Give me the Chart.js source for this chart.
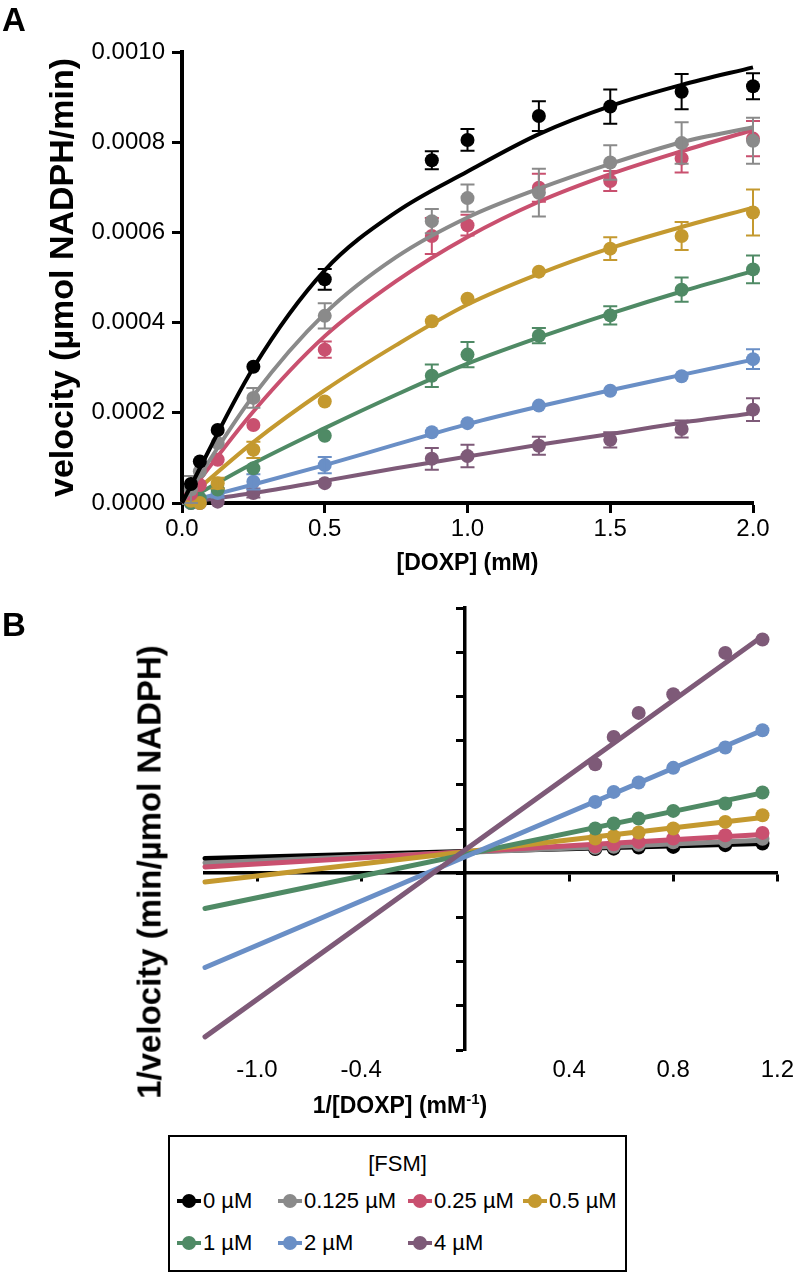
<!DOCTYPE html>
<html>
<head>
<meta charset="utf-8">
<script src="https://cdn.jsdelivr.net/npm/chart.js@4.4.1/dist/chart.umd.min.js"></script>
<style>
  body { margin: 0; background: #fff; font-family: 'Liberation Sans', Arial, sans-serif; color: #000; }
  #page { position: relative; width: 800px; height: 1274px; overflow: hidden; }
  canvas { position: absolute; left: 0; }
  #chartA { top: 0; }
  #chartB { top: 590px; }
  .panel-label { position: absolute; left: 2px; font-weight: bold; font-size: 33px; line-height: 1; }
  .ytitle { position: absolute; font-weight: bold; font-size: 33px; line-height: 1; white-space: nowrap;
            transform: translate(-50%, -50%) rotate(-90deg); }
  .xtitle { position: absolute; font-weight: bold; font-size: 23px; line-height: 1; white-space: nowrap;
            transform: translateX(-50%); }
  .xtitle sup { font-size: 15px; line-height: 0; vertical-align: 9px; }
  #legend { position: absolute; left: 168px; top: 1135px; width: 455px; height: 133px; border: 2px solid #000; }
  #legend .head { position: absolute; left: 0; right: 0; top: 14px; text-align: center; font-size: 22px; }
  #legend .items { position: absolute; left: 7px; top: 51px; display: grid;
                   grid-template-columns: 101px 130px 115px 100px; row-gap: 17px; }
  .item { display: flex; align-items: center; font-size: 22px; line-height: 25px; white-space: nowrap; }
  .sym { position: relative; display: inline-block; width: 24px; height: 14px; margin-right: 2px; }
  .sym i { position: absolute; left: 0; right: 0; top: 5px; height: 4px; }
  .sym b { position: absolute; left: 5px; top: 0; width: 14px; height: 14px; border-radius: 50%; }
</style>
</head>
<body>
<div id="page">
  <canvas id="chartA" width="800" height="600"></canvas>
  <canvas id="chartB" width="800" height="520"></canvas>
  <div class="panel-label" style="top: 3px;">A</div>
  <div class="panel-label" style="top: 608px;">B</div>
  <div class="ytitle" style="left: 149px; top: 872px;">1/velocity (min/µmol NADPH)</div>
  <div class="xtitle" style="left: 400px; top: 1094px;">1/[DOXP] (mM<sup>-1</sup>)</div>
  <div id="legend">
    <div class="head">[FSM]</div>
    <div class="items" id="legend-items"></div>
  </div>
</div>
<script>
// FSM concentrations and colours
const fsmLabels = ['0 µM', '0.125 µM', '0.25 µM', '0.5 µM', '1 µM', '2 µM', '4 µM'];
const fsmColors = ['#000000', '#8a8a8a', '#c9506f', '#c4992f', '#4f8a65', '#6a8fc6', '#7e5a78'];

// Panel A: [DOXP] (mM) and measured velocity (µmol NADPH/min)
const concA = [0.03125, 0.0625, 0.125, 0.25, 0.5, 0.875, 1.0, 1.25, 1.5, 1.75, 2.0];
const vel0    = [0.000042, 0.000092, 0.000162, 0.000302, 0.000496, 0.00076, 0.000805, 0.000858, 0.000879, 0.000912, 0.000924];
const vel0125 = [0.00003, 0.00007, 0.000133, 0.000233, 0.000415, 0.000625, 0.000676, 0.000688, 0.000755, 0.000798, 0.000803];
const vel025  = [0.00002, 0.00004, 0.000096, 0.000173, 0.00034, 0.000592, 0.000616, 0.000699, 0.000714, 0.000764, 0.000808];
const vel05   = [0.000005, 0.0, 0.000044, 0.000118, 0.000225, 0.000403, 0.000453, 0.000513, 0.000564, 0.000592, 0.000644];
const vel1    = [0.0, 0.00001, 0.00003, 0.000077, 0.000149, 0.000282, 0.000329, 0.000371, 0.000416, 0.000473, 0.000518];
const vel2    = [0.000005, 0.00001, 0.000022, 0.000047, 0.000084, 0.000157, 0.000177, 0.000216, 0.000249, 0.000281, 0.000319];
const vel4    = [0.0, 0.0, 0.000003, 0.000022, 0.000044, 0.000098, 0.000104, 0.000127, 0.00014, 0.000164, 0.000207];

// Panel A error bars (half height)
const err0    = [0, 0, 0, 0, 0.000023, 0.00002, 0.000024, 0.000033, 0.000038, 0.000039, 0.000029];
const err0125 = [0.00003, 0, 0, 0.000022, 0.000028, 0.000027, 0.00003, 0.000053, 0.000038, 0.000046, 0.000051];
const err025  = [0, 0, 0, 0, 0.000018, 0.00004, 0.000023, 0.000031, 0.000022, 0.000031, 0.000039];
const err05   = [0, 0, 0.000012, 0.000018, 0, 0, 0, 0, 0.000025, 0.000031, 0.000051];
const err1    = [0, 0, 0, 0, 0, 0.000025, 0.000028, 0.000017, 0.00002, 0.000027, 0.000031];
const err2    = [0, 0, 0.00001, 0.000017, 0.000018, 0, 0, 0, 0, 0, 0.000022];
const err4    = [0, 0, 0, 0.00001, 0, 0.000024, 0.000025, 0.00002, 0.000017, 0.000019, 0.000025];

// Panel A fitted curves, every 0.25 mM
const fitConcA = [0, 0.25, 0.5, 0.75, 1.0, 1.25, 1.5, 1.75, 2.0];
const fit0    = [0, 0.0003, 0.000516, 0.000645, 0.000735, 0.000818, 0.00088, 0.000927, 0.000966];
const fit0125 = [0, 0.000238, 0.00042, 0.000545, 0.000633, 0.000697, 0.000752, 0.0008, 0.000833];
const fit025  = [0, 0.000203, 0.00037, 0.000492, 0.00059, 0.000668, 0.000729, 0.00078, 0.000827];
const fit05   = [0, 0.000135, 0.00025, 0.00035, 0.00044, 0.000508, 0.000565, 0.000612, 0.000655];
const fit1    = [0, 0.000088, 0.000166, 0.00024, 0.000309, 0.000367, 0.00042, 0.000469, 0.000514];
const fit2    = [0, 0.000041, 0.000084, 0.00013, 0.000175, 0.000214, 0.00025, 0.000284, 0.000318];
const fit4    = [0, 0.000022, 0.000049, 0.000077, 0.000103, 0.000129, 0.000153, 0.000178, 0.000199];

// Panel B: 1/[DOXP] (mM-1) and 1/velocity (min/µmol NADPH)
const invConcB = [0.5, 0.571, 0.667, 0.8, 1.0, 1.143];
const inv0    = [1090, 1110, 1160, 1190, 1270, 1345];
const inv0125 = [1150, 1200, 1290, 1400, 1450, 1560];
const inv025  = [1222, 1312, 1416, 1570, 1719, 1824];
const inv05   = [1570, 1674, 1842, 2022, 2321, 2624];
const inv1    = [2022, 2249, 2475, 2819, 3154, 3652];
const inv2    = [3226, 3679, 4104, 4766, 5688, 6471];
const inv4    = [4932, 6167, 7253, 8100, 9968, 10575];

// Panel B regression lines: value at each end
const lineEndsB = [-1.0, 1.143];
const line0    = [665, 1344];
const line0125 = [466, 1493];
const line025  = [285, 1751];
const line05   = [-394, 2520];
const line1    = [-1597, 3633];
const line2    = [-4267, 6471];
const line4    = [-7407, 10724];

// Panel B axis ticks (labels as printed on the figure)
const xTickValsB = [-0.8, -0.4, 0.4, 0.8, 1.2];
const xTickLabelsB = ['-1.0', '-0.4', '0.4', '0.8', '1.2'];
const yTickStepB = 2000;

const velSeries = [vel0, vel0125, vel025, vel05, vel1, vel2, vel4];
const errSeries = [err0, err0125, err025, err05, err1, err2, err4];
const fitSeries = [fit0, fit0125, fit025, fit05, fit1, fit2, fit4];
const invSeries = [inv0, inv0125, inv025, inv05, inv1, inv2, inv4];
const lineSeries = [line0, line0125, line025, line05, line1, line2, line4];

Chart.defaults.font.family = "'Liberation Sans', Arial, Helvetica, sans-serif";
Chart.defaults.color = '#000';

// Draw error bars right after each dataset so layering follows dataset order
const errorBarPlugin = {
    id: 'errorBars',
    afterDatasetDraw(chart, args) {
        const ds = chart.data.datasets[args.index];
        if (!ds.errorBars) return;
        const ctx = chart.ctx;
        const xs = chart.scales.x;
        const ys = chart.scales.y;
        ctx.save();
        ctx.strokeStyle = ds.borderColor;
        ctx.lineWidth = 2;
        ds.data.forEach((p, j) => {
            const e = ds.errorBars[j];
            if (!e) return;
            const px = xs.getPixelForValue(p.x);
            const top = ys.getPixelForValue(p.y + e);
            const bot = ys.getPixelForValue(p.y - e);
            ctx.beginPath();
            ctx.moveTo(px, top);
            ctx.lineTo(px, bot);
            ctx.moveTo(px - 7, top);
            ctx.lineTo(px + 7, top);
            ctx.moveTo(px - 7, bot);
            ctx.lineTo(px + 7, bot);
            ctx.stroke();
        });
        ctx.restore();
    }
};

// Panel A datasets: first one ends up on top
const datasetsA = [];
fsmLabels.forEach((label, i) => {
    datasetsA.push({
        label: label,
        data: concA.map((x, j) => ({ x: x, y: velSeries[i][j] })),
        showLine: false,
        pointRadius: 7,
        pointBorderWidth: 0,
        backgroundColor: fsmColors[i],
        borderColor: fsmColors[i],
        errorBars: errSeries[i],
        clip: false
    });
    datasetsA.push({
        label: label + ' fit',
        data: fitConcA.map((x, j) => ({ x: x, y: fitSeries[i][j] })),
        showLine: true,
        pointRadius: 0,
        borderColor: fsmColors[i],
        borderWidth: 4,
        cubicInterpolationMode: 'monotone',
        fill: false,
        clip: false
    });
});

new Chart(document.getElementById('chartA'), {
    type: 'scatter',
    data: { datasets: datasetsA },
    options: {
        responsive: false,
        animation: false,
        layout: { padding: { top: 52, right: 47, left: 0, bottom: 0 } },
        plugins: { legend: { display: false }, tooltip: { enabled: false } },
        scales: {
            x: {
                type: 'linear',
                min: 0,
                max: 2,
                ticks: { stepSize: 0.5, callback: v => v.toFixed(1), font: { size: 24 }, padding: 2, color: '#000' },
                grid: { drawOnChartArea: false, tickLength: 10, tickWidth: 3, color: '#000' },
                border: { width: 4, color: '#000' },
                title: { display: true, text: '[DOXP] (mM)', font: { size: 23, weight: 'bold' }, padding: { bottom: 23 }, color: '#000' },
                afterFit: scale => { scale.height = 97; }
            },
            y: {
                type: 'linear',
                min: 0,
                max: 0.001,
                ticks: { stepSize: 0.0002, callback: v => v.toFixed(4), font: { size: 24 }, padding: 7, color: '#000' },
                grid: { drawOnChartArea: false, tickLength: 10, tickWidth: 3, color: '#000' },
                border: { width: 4, color: '#000' },
                title: { display: true, text: 'velocity (µmol NADPH/min)', font: { size: 34, weight: 'bold' }, padding: { top: 43 }, color: '#000' },
                afterFit: scale => { scale.width = 182; }
            }
        }
    },
    plugins: [errorBarPlugin]
});

// Panel B datasets: last concentration on top
const datasetsB = [];
for (let i = fsmLabels.length - 1; i >= 0; i--) {
    datasetsB.push({
        label: fsmLabels[i],
        data: invConcB.map((x, j) => ({ x: x, y: invSeries[i][j] })),
        showLine: false,
        pointRadius: 7,
        pointBorderWidth: 0,
        backgroundColor: fsmColors[i],
        borderColor: fsmColors[i],
        clip: false
    });
    datasetsB.push({
        label: fsmLabels[i] + ' line',
        data: lineEndsB.map((x, j) => ({ x: x, y: lineSeries[i][j] })),
        showLine: true,
        pointRadius: 0,
        borderColor: fsmColors[i],
        borderWidth: 5,
        borderCapStyle: 'round',
        fill: false,
        clip: false
    });
}

new Chart(document.getElementById('chartB'), {
    type: 'scatter',
    data: { datasets: datasetsB },
    options: {
        responsive: false,
        animation: false,
        layout: { padding: { top: 18, right: 17, left: 205, bottom: 0 } },
        plugins: { legend: { display: false }, tooltip: { enabled: false } },
        scales: {
            // bottom scale only carries the printed labels
            x: {
                type: 'linear',
                position: 'bottom',
                min: -1.0,
                max: 1.2,
                afterBuildTicks: scale => { scale.ticks = xTickValsB.map(v => ({ value: v })); },
                ticks: {
                    autoSkip: false,
                    maxRotation: 0,
                    callback: v => xTickLabelsB[xTickValsB.indexOf(v)],
                    font: { size: 24 },
                    padding: 6,
                    color: '#000'
                },
                grid: { display: false, drawTicks: false },
                border: { display: false },
                afterFit: scale => { scale.height = 60; }
            },
            // axis line crossing at y = 0
            xZero: {
                type: 'linear',
                axis: 'x',
                position: { y: 0 },
                min: -1.0,
                max: 1.2,
                afterBuildTicks: scale => { scale.ticks = xTickValsB.map(v => ({ value: v })); },
                ticks: { display: false },
                grid: { drawOnChartArea: false, tickLength: 7, tickWidth: 3, color: '#000' },
                border: { width: 3.5, color: '#000' }
            },
            y: {
                type: 'linear',
                position: { x: 0 },
                min: -8000,
                max: 12000,
                ticks: { display: false, stepSize: yTickStepB },
                grid: { drawOnChartArea: false, tickLength: 7, tickWidth: 3, color: '#000' },
                border: { width: 3.5, color: '#000' }
            }
        }
    }
});

// Legend box
const legendItems = document.getElementById('legend-items');
fsmLabels.forEach((label, i) => {
    const item = document.createElement('div');
    item.className = 'item';
    item.innerHTML = '<span class="sym"><i style="background:' + fsmColors[i] + '"></i><b style="background:' +
        fsmColors[i] + '"></b></span>' + label;
    legendItems.appendChild(item);
});
</script>
</body>
</html>
